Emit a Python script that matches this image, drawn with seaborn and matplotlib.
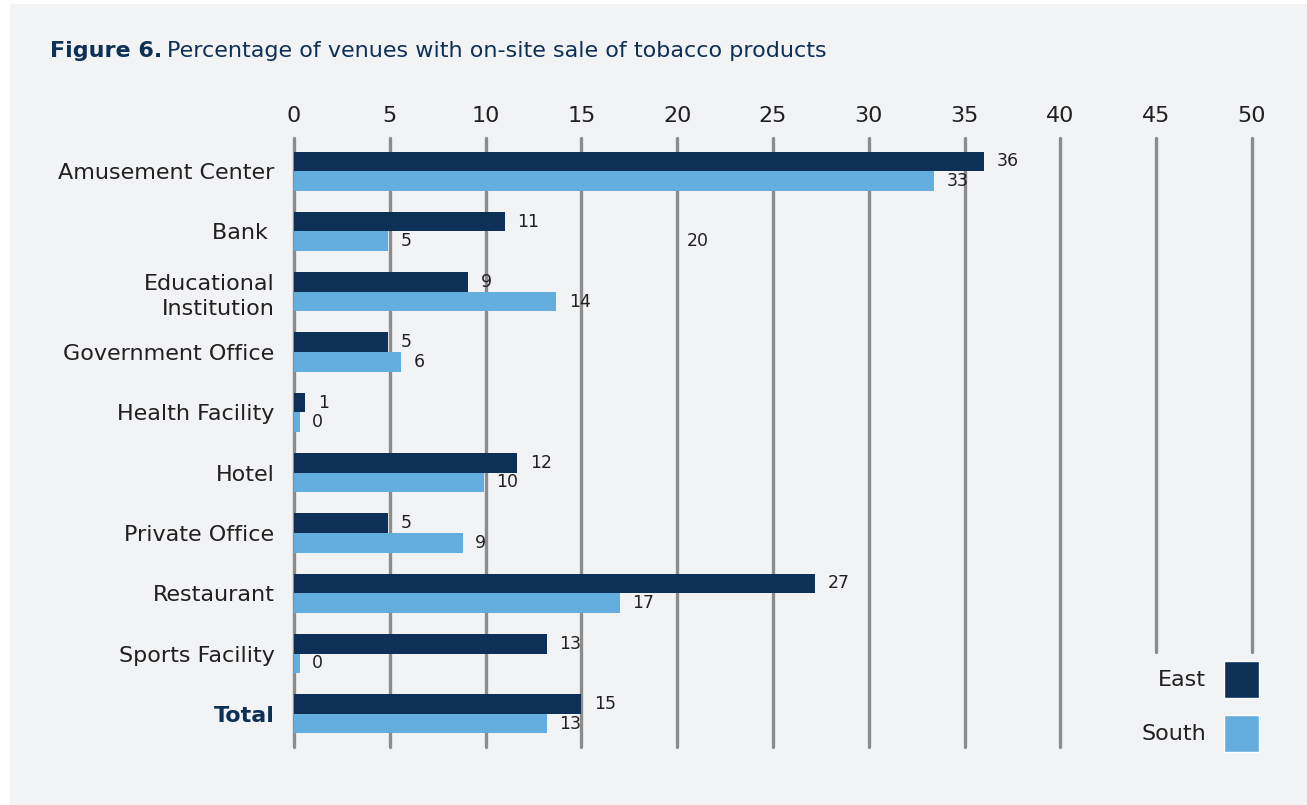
import matplotlib
matplotlib.use("Agg")
import matplotlib.pyplot as plt
from matplotlib.patches import Rectangle, Patch
import seaborn as sns
import pandas as pd

categories = ["Amusement Center", "Bank ", "Educational\nInstitution", "Government Office",
              "Health Facility", "Hotel", "Private Office", "Restaurant",
              "Sports Facility", "Total"]
east = [36.0, 11.0, 9.1, 4.9, 0.6, 11.65, 4.9, 27.2, 13.2, 15.0]
south = [33.4, 4.9, 13.7, 5.6, 0.3, 9.9, 8.8, 17.0, 0.3, 13.2]
series = ["East", "South"]
xticks = [0, 5, 10, 15, 20, 25, 30, 35, 40, 45, 50]
stray_label = "20"

EAST_C = "#0e3057"
SOUTH_C = "#63addf"
BG = "#f2f3f5"
TXT = "#231f20"

df = pd.DataFrame({
    "Category": categories * 2,
    "Region": [series[0]] * len(categories) + [series[1]] * len(categories),
    "Value": east + south,
})

sns.set_theme(style="white")
plt.rcParams["font.family"] = ["DejaVu Sans"]

W, H = 1307, 805
fig = plt.figure(figsize=(W / 100, H / 100), dpi=100, facecolor="white")
fig.patches.append(Rectangle((10 / W, 0), 1 - 10 / W, 1 - 4 / H, transform=fig.transFigure,
                             facecolor=BG, edgecolor="none", zorder=-10))

ax = fig.add_axes([294 / W, 1 - 747 / H, (1252 - 294) / W, (747 - 138) / H])
ax.set_facecolor("none")

sns.barplot(data=df, y="Category", x="Value", hue="Region", orient="h",
            palette=[EAST_C, SOUTH_C], width=0.65, ax=ax, legend=False,
            saturation=1, errorbar=None, linewidth=0, edgecolor="none")

ax.set_xlim(0, 50)
ax.set_ylim(9.55, -0.55)
ax.set_xticks(xticks)
ax.xaxis.tick_top()
ax.tick_params(axis="x", length=0, pad=9, labelsize=16, labelcolor=TXT)
ax.tick_params(axis="y", length=0, pad=14, labelsize=16, labelcolor=TXT)
ax.set_xlabel("")
ax.set_ylabel("")
for s in ax.spines.values():
    s.set_visible(False)
short_from = (747 - 652) / (747 - 138)
for x in xticks:
    ymin = short_from if x >= 45 else 0
    ax.axvline(x, ymin=ymin, ymax=1, color="#8c8c8c", lw=2.4, zorder=0, clip_on=False)

ylabels = ax.get_yticklabels()
ylabels[-1].set_fontweight("bold")
ylabels[-1].set_color(EAST_C)
for t in ylabels:
    t.set_linespacing(1.35)

for cont in ax.containers:
    ax.bar_label(cont, fmt="%.0f", padding=9, fontsize=12.5, color=TXT)

ax.text(20.5, 1.16, stray_label, fontsize=12.5, color=TXT, va="center", ha="left")

# Title
t1 = fig.text(50 / W, 1 - 51 / H, "Figure 6.", fontsize=16, fontweight="bold",
              color=EAST_C, va="center", ha="left")
fig.canvas.draw()
bb = t1.get_window_extent()
fig.text((bb.x1 + 5) / W, 1 - 51 / H, "Percentage of venues with on-site sale of tobacco products",
         fontsize=16, color=EAST_C, va="center", ha="left")

handles = [Patch(facecolor=EAST_C), Patch(facecolor=SOUTH_C)]
leg = fig.legend(handles, series, loc="lower right",
                 bbox_to_anchor=(1259 / W, 1 - 752 / H), bbox_transform=fig.transFigure,
                 frameon=False, markerfirst=False, fontsize=16,
                 handlelength=1.58, handleheight=2.2, handletextpad=0.8,
                 labelspacing=0.75, borderpad=0, borderaxespad=0)
for t in leg.get_texts():
    t.set_color(TXT)

fig.savefig("out.png", dpi=100, facecolor="white")
